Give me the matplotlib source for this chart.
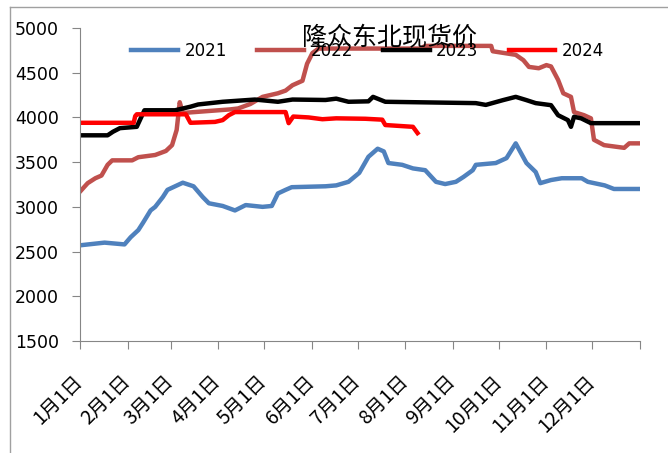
import numpy as np
import matplotlib.pyplot as plt
import matplotlib.transforms as mtransforms
from matplotlib.lines import Line2D

plt.rcParams['font.family'] = ['Noto Sans CJK SC', 'DejaVu Sans']

# day of year (0 = 1月1日) and price
day_2021 = [0, 16, 29, 33, 38, 41, 46, 49, 54, 57, 62, 67, 74, 80, 84, 93, 101, 108,
            119, 125, 129, 134, 138, 160, 167, 175, 182, 188, 194, 198, 201, 210, 217,
            225, 232, 238, 245, 250, 256, 258, 271, 278, 284, 287, 291, 297, 300, 307,
            314, 327, 331, 342, 348, 365]
val_2021 = [2570, 2600, 2580, 2660, 2740, 2820, 2960, 3000, 3110, 3190, 3230, 3270, 3230,
            3110, 3040, 3010, 2960, 3020, 3000, 3010, 3150, 3190, 3220, 3230, 3240, 3280,
            3380, 3560, 3650, 3620, 3490, 3470, 3430, 3410, 3280, 3255, 3280, 3335, 3410,
            3470, 3490, 3545, 3710, 3615, 3490, 3390, 3265, 3300, 3320, 3320, 3280, 3240,
            3200, 3200]

day_2022 = [0, 5, 10, 14, 18, 21, 34, 38, 49, 56, 60, 63, 65, 67, 98, 103, 111, 119,
            129, 134, 138.5, 145, 148, 151.5, 155.5, 222, 225, 268, 269, 284, 289, 292.6,
            299, 304, 307, 311.6, 315, 320, 322, 328.5, 333, 335, 341.6, 354.7, 358, 365]
val_2022 = [3170, 3265, 3320, 3350, 3470, 3520, 3520, 3555, 3580, 3625, 3690, 3860, 4170,
            4050, 4090, 4100, 4150, 4230, 4270, 4300, 4360, 4410, 4600, 4720, 4770, 4770,
            4800, 4800, 4740, 4700, 4640, 4565, 4550, 4585, 4570, 4420, 4270, 4230, 4060,
            4025, 3990, 3750, 3690, 3660, 3710, 3710]

day_2023 = [0, 18, 21.5, 26, 37, 42, 62, 72, 77, 93, 114, 129, 138.5, 160, 167, 175, 188,
            191, 199, 238, 258, 264.5, 275.6, 284, 290.7, 297, 307, 311.6, 318, 320, 322,
            326.6, 333, 365]
val_2023 = [3800, 3800, 3840, 3880, 3895, 4080, 4080, 4120, 4145, 4175, 4200, 4175, 4200,
            4195, 4210, 4175, 4180, 4230, 4175, 4165, 4160, 4140, 4193, 4230, 4195, 4160,
            4137, 4025, 3970, 3895, 4007, 3990, 3936, 3936]

day_2024 = [0, 35, 36, 37, 69, 72, 88, 93, 97, 101, 134, 136, 139, 149, 158, 167, 186,
            197, 199, 217, 220]
val_2024 = [3940, 3940, 4015, 4035, 4035, 3940, 3950, 3970, 4025, 4060, 4060, 3936, 4010,
            4000, 3980, 3990, 3985, 3975, 3915, 3895, 3825]

month_days = [0, 31, 59, 90, 120, 151, 181, 212, 243, 273, 304, 334, 365]
month_labels = ['%d月1日' % m for m in range(1, 13)] + ['']

fig = plt.figure(figsize=(6.68, 4.53), dpi=100)
ax = fig.add_axes([80 / 668, 1 - 341 / 453, 560 / 668, 313 / 453])

lw = 3.2
ax.plot(day_2021, val_2021, color='#4F81BD', lw=lw, label='2021')
ax.plot(day_2022, val_2022, color='#C0504D', lw=lw, label='2022')
ax.plot(day_2023, val_2023, color='black', lw=lw, label='2023')
ax.plot(day_2024, val_2024, color='#FF0000', lw=lw, label='2024')

ax.set_xlim(0, 365)
ax.set_ylim(1500, 5000)
ax.set_yticks(np.arange(1500, 5001, 500))
ax.set_xticks(month_days)
ax.set_xticklabels(month_labels, rotation=45, ha='right', va='center',
                   rotation_mode='anchor', fontsize=14)
# nudge the slanted labels a little to the right, like Excel does
shift = mtransforms.ScaledTranslation(5 / 100, 0, fig.dpi_scale_trans)
for lab in ax.get_xticklabels():
    lab.set_transform(lab.get_transform() + shift)
for lab in ax.get_yticklabels():
    lab.set_fontfamily('DejaVu Sans')
    lab.set_fontsize(12.5)

for s in ['top', 'right']:
    ax.spines[s].set_visible(False)
for s in ['left', 'bottom']:
    ax.spines[s].set_color('#868686')
ax.tick_params(axis='both', direction='out', length=6, color='#868686')
ax.tick_params(axis='x', pad=21)
ax.tick_params(axis='y', pad=9)

ax.legend(loc='center', bbox_to_anchor=(0.514, 0.926), ncol=4, frameon=False,
          prop={'family': 'DejaVu Sans', 'size': 12}, handlelength=2.8,
          handletextpad=0.4, columnspacing=1.8)

fig.text(390 / 668, 1 - 38 / 453, '隆众东北现货价', ha='center', va='center', fontsize=18)

# outer frame (left and top edges visible)
fig.add_artist(Line2D([10 / 668, 10 / 668], [0, 1 - 7 / 453], color='#a0a0a0', lw=1,
                      transform=fig.transFigure))
fig.add_artist(Line2D([10 / 668, 1], [1 - 7 / 453, 1 - 7 / 453], color='#a0a0a0', lw=1,
                      transform=fig.transFigure))

fig.savefig('out.png', dpi=100)
